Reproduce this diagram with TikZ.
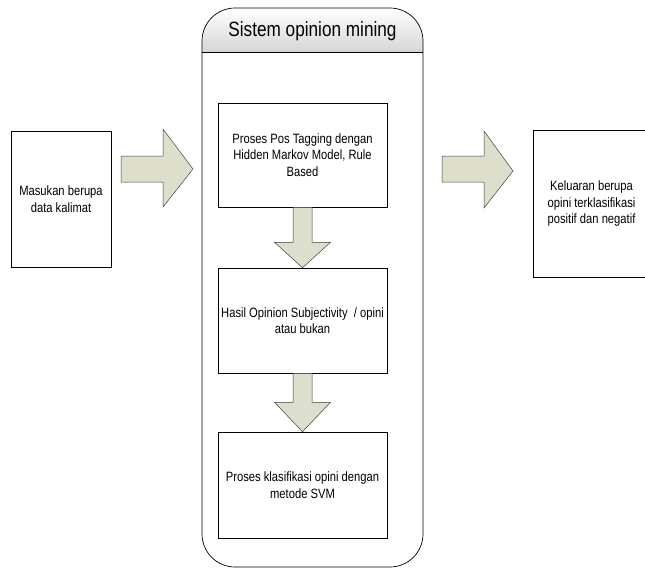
\documentclass[tikz,border=0pt]{standalone}
\usepackage{fontspec}
\setmainfont{Liberation Sans}[FakeStretch=0.83]
\usetikzlibrary{calc}
\definecolor{arrowfill}{RGB}{221,223,204}
\definecolor{headgray}{RGB}{214,214,214}
\begin{document}
\begin{tikzpicture}[x=1pt,y=-1pt,
  box/.style={draw, line width=0.6pt, fill=white, align=center,
    font=\fontsize{13.5}{16.5}\selectfont, inner sep=2pt},
  barrow/.style={draw=black!75, line width=0.5pt, fill=arrowfill, line join=miter},
  titlefont/.style={font=\fontsize{20.7}{24}\selectfont}]
\useasboundingbox (0,0) rectangle (645,576);
% container
\begin{scope}
  \clip[rounded corners=33pt] (202,8) rectangle (423,567);
  \shade[top color=white, bottom color=headgray] (202,8) rectangle (423,52);
\end{scope}
\node[draw, line width=0.7pt, rounded corners=33pt, minimum width=221pt,
  minimum height=559pt, inner sep=0pt] (sys) at (312.5,287.5) {};
\draw[line width=0.6pt] (sys.west |- 0,52) coordinate (hl) -- (sys.east |- 0,52) coordinate (hr);
\node[titlefont] (title) at (312.5,31) {Sistem opinion mining};
% boxes
\node[box, minimum width=100pt, minimum height=136pt] (in) at (61,199)
  {Masukan berupa\\data kalimat};
\node[box, minimum width=117pt, minimum height=147pt] (out) at (591.5,204)
  {Keluaran berupa\\opini terklasifikasi\\positif dan negatif};
\node[box, minimum width=169pt, minimum height=104pt] (p1) at (302.5,155)
  {Proses Pos Tagging dengan\\Hidden Markov Model, Rule\\Based};
\node[box, minimum width=169pt, minimum height=105pt] (p2) at (302.5,320.5)
  {Hasil Opinion Subjectivity~ / opini\\atau bukan};
\node[box, minimum width=169pt, minimum height=106pt] (p3) at (302.5,485)
  {Proses klasifikasi opini dengan\\metode SVM};
% horizontal block arrows
\coordinate (la) at (121,169);
\draw[barrow] ($(la)+(0,-13)$) -- ($(la)+(42,-13)$) -- ($(la)+(42,-40)$)
  -- ($(la)+(72,0)$) -- ($(la)+(42,38)$) -- ($(la)+(42,13)$) -- ($(la)+(0,13)$) -- cycle;
\coordinate (ra) at (442,169);
\draw[barrow] ($(ra)+(0,-13)$) -- ($(ra)+(42,-13)$) -- ($(ra)+(42,-38)$)
  -- ($(ra)+(71,2)$) -- ($(ra)+(42,39)$) -- ($(ra)+(42,13)$) -- ($(ra)+(0,13)$) -- cycle;
% vertical block arrows
\draw[barrow] ($(p1.south)+(-9.5,0)$) -- ($(p1.south)+(9.5,0)$) -- ($(p1.south)+(9.5,35)$)
  -- ($(p1.south)+(28,35)$) -- (p2.north) -- ($(p1.south)+(-28,35)$)
  -- ($(p1.south)+(-9.5,35)$) -- cycle;
\draw[barrow] ($(p2.south)+(-9.5,0)$) -- ($(p2.south)+(9.5,0)$) -- ($(p2.south)+(9.5,29)$)
  -- ($(p2.south)+(28,29)$) -- (p3.north) -- ($(p2.south)+(-28,29)$)
  -- ($(p2.south)+(-9.5,29)$) -- cycle;
\end{tikzpicture}
\end{document}
